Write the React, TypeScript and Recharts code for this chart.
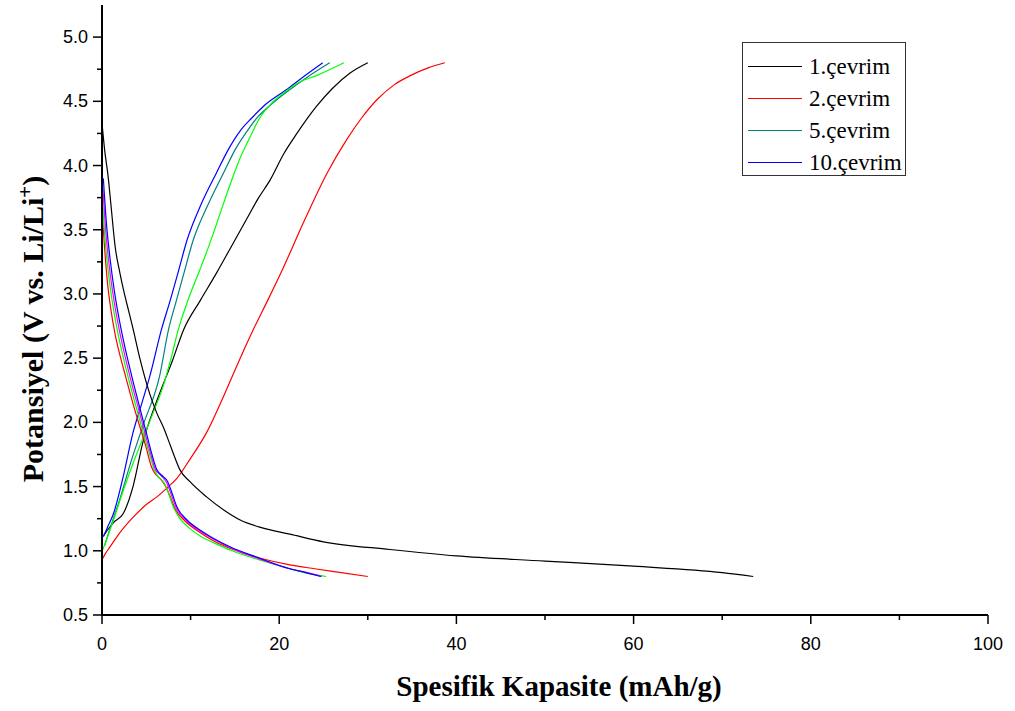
import { Legend, Line, LineChart, XAxis, YAxis } from "recharts";

// [capacity mAh/g, potential V]
const cycle1Charge = [
  [0.2, 1.12], [0.6, 1.16], [1.3, 1.22], [2.4, 1.29], [3.5, 1.5], [4.6, 1.84],
  [6.2, 2.17], [8.0, 2.49], [9.2, 2.72], [11.1, 2.95], [12.9, 3.16], [14.6, 3.37],
  [16.3, 3.58], [17.6, 3.74], [19.0, 3.89], [20.5, 4.09], [22.0, 4.25], [24.2, 4.46],
  [26.0, 4.6], [28.0, 4.72], [30.0, 4.8],
];
const cycle1Discharge = [
  [0, 4.33], [0.3, 4.12], [0.7, 3.91], [1.0, 3.7], [1.5, 3.36], [2.0, 3.17],
  [2.5, 3.01], [3.0, 2.87], [3.5, 2.73], [4.3, 2.49], [5.4, 2.22], [6.2, 2.07],
  [7.0, 1.95], [7.5, 1.86], [8.2, 1.73], [8.8, 1.63], [9.9, 1.54], [11.8, 1.42],
  [13.7, 1.32], [15.6, 1.24], [18.0, 1.18], [21.2, 1.13], [25.0, 1.07], [32.5, 1.01],
  [40.0, 0.96], [50.0, 0.92], [60.0, 0.88], [70.0, 0.83], [73.5, 0.8],
];
const cycle2Charge = [
  [0, 0.93], [0.4, 0.98], [0.9, 1.03], [2.0, 1.14], [3.5, 1.26], [5.0, 1.36],
  [6.2, 1.42], [7.5, 1.5], [8.4, 1.56], [9.9, 1.71], [11.8, 1.92], [13.7, 2.2],
  [15.6, 2.5], [17.2, 2.74], [18.7, 2.95], [20.5, 3.21], [22.7, 3.55], [25.4, 3.94],
  [27.6, 4.2], [29.3, 4.37], [31.0, 4.51], [33.0, 4.63], [34.8, 4.7], [36.8, 4.76],
  [38.7, 4.8],
];
const cycle2Discharge = [
  [0, 3.65], [0.3, 3.35], [0.6, 3.1], [1.0, 2.88], [1.5, 2.68], [2.0, 2.53],
  [2.5, 2.4], [3.0, 2.27], [3.6, 2.12], [4.3, 1.96], [5.0, 1.8], [5.6, 1.65],
  [6.0, 1.6], [6.6, 1.56], [7.2, 1.5], [7.7, 1.42], [8.3, 1.32], [9.4, 1.23],
  [10.9, 1.15], [12.5, 1.08], [15.6, 0.99], [18.0, 0.94], [21.2, 0.89], [24.0, 0.86],
  [27.0, 0.83], [30.0, 0.8],
];
const cycle3Charge = [
  [0.1, 1.01], [1.2, 1.22], [2.4, 1.47], [3.5, 1.68], [4.7, 1.89], [5.8, 2.08],
  [6.9, 2.28], [7.8, 2.5], [8.6, 2.72], [9.7, 2.95], [11.0, 3.18], [12.2, 3.4],
  [13.3, 3.62], [14.5, 3.86], [15.6, 4.06], [16.7, 4.22], [17.8, 4.37], [19.2, 4.49],
  [20.8, 4.58], [22.3, 4.65], [24.2, 4.7], [27.3, 4.8],
];
const cycle3Discharge = [
  [0.05, 3.72], [0.4, 3.38], [0.8, 3.12], [1.3, 2.88], [1.9, 2.66], [2.6, 2.45],
  [3.3, 2.26], [4.1, 2.06], [4.9, 1.86], [5.5, 1.72], [5.9, 1.63], [6.3, 1.58],
  [7.0, 1.53], [7.5, 1.45], [8.0, 1.35], [8.7, 1.26], [9.8, 1.18], [11.2, 1.11],
  [12.7, 1.06], [14.7, 1.0], [17.7, 0.93], [21.2, 0.86], [23.5, 0.82], [25.3, 0.8],
];
const cycle5Charge = [
  [0.3, 1.04], [0.8, 1.15], [2.0, 1.4], [3.3, 1.7], [4.7, 1.99], [6.5, 2.36],
  [7.5, 2.72], [8.4, 2.95], [9.2, 3.15], [10.3, 3.42], [12.0, 3.7], [13.7, 3.94],
  [15.0, 4.12], [16.3, 4.26], [17.6, 4.38], [19.0, 4.47], [20.8, 4.57], [23.2, 4.69],
  [25.7, 4.8],
];
const cycle5Discharge = [
  [0.1, 3.82], [0.45, 3.47], [0.85, 3.2], [1.35, 2.95], [1.95, 2.72], [2.65, 2.5],
  [3.4, 2.29], [4.15, 2.1], [4.95, 1.89], [5.55, 1.74], [6.05, 1.63], [6.6, 1.59],
  [7.3, 1.53], [7.8, 1.44], [8.4, 1.33], [9.6, 1.23], [11.1, 1.15], [12.6, 1.09],
  [14.6, 1.02], [17.6, 0.94], [21.2, 0.86], [23.2, 0.83], [24.8, 0.8],
];
const cycle10Charge = [
  [0.15, 1.11], [0.6, 1.18], [1.3, 1.29], [2.4, 1.58], [3.5, 1.92], [4.5, 2.15],
  [5.4, 2.36], [6.7, 2.72], [7.7, 2.95], [8.6, 3.17], [9.6, 3.42], [11.2, 3.7],
  [12.9, 3.94], [14.3, 4.13], [15.6, 4.27], [16.9, 4.37], [18.2, 4.46], [20.8, 4.59],
  [22.7, 4.69], [24.9, 4.8],
];
const cycle10Discharge = [
  [0.15, 3.9], [0.5, 3.55], [0.9, 3.28], [1.4, 3.02], [2.0, 2.78], [2.7, 2.55],
  [3.5, 2.32], [4.2, 2.13], [5.0, 1.92], [5.6, 1.76], [6.2, 1.63], [6.7, 1.59],
  [7.4, 1.54], [7.9, 1.45], [8.4, 1.35], [9.6, 1.24], [11.1, 1.16], [12.5, 1.1],
  [14.5, 1.03], [17.5, 0.95], [21.2, 0.86], [23.0, 0.83], [24.7, 0.8],
];

const X_TICKS = [0, 10, 20, 30, 40, 50, 60, 70, 80, 90, 100];
const Y_TICKS = [
  0.5, 0.75, 1.0, 1.25, 1.5, 1.75, 2.0, 2.25, 2.5, 2.75, 3.0, 3.25, 3.5, 3.75,
  4.0, 4.25, 4.5, 4.75, 5.0,
];

const SERIES = [
  { id: "c1c", name: "1.çevrim", color: "#000000", points: cycle1Charge, legend: true },
  { id: "c2c", name: "2.çevrim", color: "#ff0000", points: cycle2Charge, legend: true },
  { id: "c5c", name: "5.çevrim", color: "#008080", points: cycle5Charge, legend: true },
  { id: "c10c", name: "10.çevrim", color: "#0000ff", points: cycle10Charge, legend: true },
  { id: "c3c", name: "3.çevrim", color: "#00ff00", points: cycle3Charge, legend: false },
  { id: "c1d", name: "1.çevrim", color: "#000000", points: cycle1Discharge, legend: false },
  { id: "c2d", name: "2.çevrim", color: "#ff0000", points: cycle2Discharge, legend: false },
  { id: "c3d", name: "3.çevrim", color: "#00ff00", points: cycle3Discharge, legend: false },
  { id: "c5d", name: "5.çevrim", color: "#ff00ff", points: cycle5Discharge, legend: false },
  { id: "c10d", name: "10.çevrim", color: "#0000ff", points: cycle10Discharge, legend: false },
];
const LEGEND_ITEMS = SERIES.filter((s) => s.legend);

const SANS = '"Liberation Sans", Arial, sans-serif';
const SERIF = '"Liberation Serif", "Times New Roman", serif';

function XTick({ x, y, payload }: any) {
  const major = payload.value % 20 === 0;
  return (
    <g>
      <line x1={x} y1={y} x2={x} y2={y + (major ? 9 : 5)} stroke="#000" strokeWidth={1.5} />
      {major && (
        <text x={x} y={y + 35} textAnchor="middle" fontFamily={SANS} fontSize={18} fill="#000">
          {payload.value}
        </text>
      )}
    </g>
  );
}

function YTick({ x, y, payload }: any) {
  const v = payload.value;
  const major = Math.abs(v * 2 - Math.round(v * 2)) < 1e-6;
  return (
    <g>
      <line x1={x - (major ? 9 : 5)} y1={y} x2={x} y2={y} stroke="#000" strokeWidth={1.5} />
      {major && (
        <text x={x - 14} y={y + 6} textAnchor="end" fontFamily={SANS} fontSize={18} fill="#000">
          {v.toFixed(1)}
        </text>
      )}
    </g>
  );
}

function LegendBox() {
  return (
    <div
      style={{
        width: 164,
        height: 134,
        boxSizing: "border-box",
        border: "1px solid #333",
        background: "#fff",
        paddingTop: 7,
      }}
    >
      {LEGEND_ITEMS.map((s) => (
        <div key={s.id} style={{ display: "flex", alignItems: "center", height: 32 }}>
          <div style={{ marginLeft: 5, width: 54, height: 0, borderTop: `1px solid ${s.color}` }} />
          <span style={{ marginLeft: 7, fontFamily: SERIF, fontSize: 23, color: "#000", lineHeight: 1 }}>
            {s.name}
          </span>
        </div>
      ))}
    </div>
  );
}

export default function App() {
  return (
    <div style={{ position: "absolute", left: 0, top: 0, width: 1015, height: 711, background: "#fff" }}>
      <LineChart width={1015} height={711} margin={{ top: 5, right: 27, bottom: 0, left: 0 }}>
        <XAxis
          type="number"
          dataKey="x"
          domain={[0, 100]}
          ticks={X_TICKS}
          interval={0}
          height={96}
          tickSize={0}
          tickMargin={0}
          tickLine={false}
          axisLine={{ stroke: "#000", strokeWidth: 2 }}
          tick={XTick}
          allowDataOverflow
        />
        <YAxis
          type="number"
          dataKey="y"
          domain={[0.5, 5.25]}
          ticks={Y_TICKS}
          interval={0}
          width={102}
          tickSize={0}
          tickMargin={0}
          tickLine={false}
          axisLine={{ stroke: "#000", strokeWidth: 2 }}
          tick={YTick}
          allowDataOverflow
        />
        <Legend
          layout="horizontal"
          verticalAlign="middle"
          align="center"
          content={LegendBox}
          wrapperStyle={{ top: 42, left: 742, width: 164, height: 134 }}
        />
        {SERIES.map((s) => (
          <Line
            key={s.id}
            name={s.name}
            data={s.points.map(([x, y]) => ({ x, y }))}
            dataKey="y"
            type="monotone"
            stroke={s.color}
            strokeWidth={1.2}
            dot={false}
            activeDot={false}
            legendType={s.legend ? "line" : "none"}
            isAnimationActive={false}
          />
        ))}
      </LineChart>
      <div
        style={{
          position: "absolute",
          left: 559,
          top: 686,
          transform: "translate(-50%, -50%)",
          fontFamily: SERIF,
          fontWeight: "bold",
          fontSize: 29,
          whiteSpace: "nowrap",
          color: "#000",
        }}
      >
        Spesifik Kapasite (mAh/g)
      </div>
      <div
        style={{
          position: "absolute",
          left: 31,
          top: 329,
          transform: "translate(-50%, -50%) rotate(-90deg)",
          fontFamily: SERIF,
          fontWeight: "bold",
          fontSize: 30,
          whiteSpace: "nowrap",
          color: "#000",
        }}
      >
        Potansiyel (V vs. Li/Li<sup style={{ fontSize: 21 }}>+</sup>)
      </div>
    </div>
  );
}
